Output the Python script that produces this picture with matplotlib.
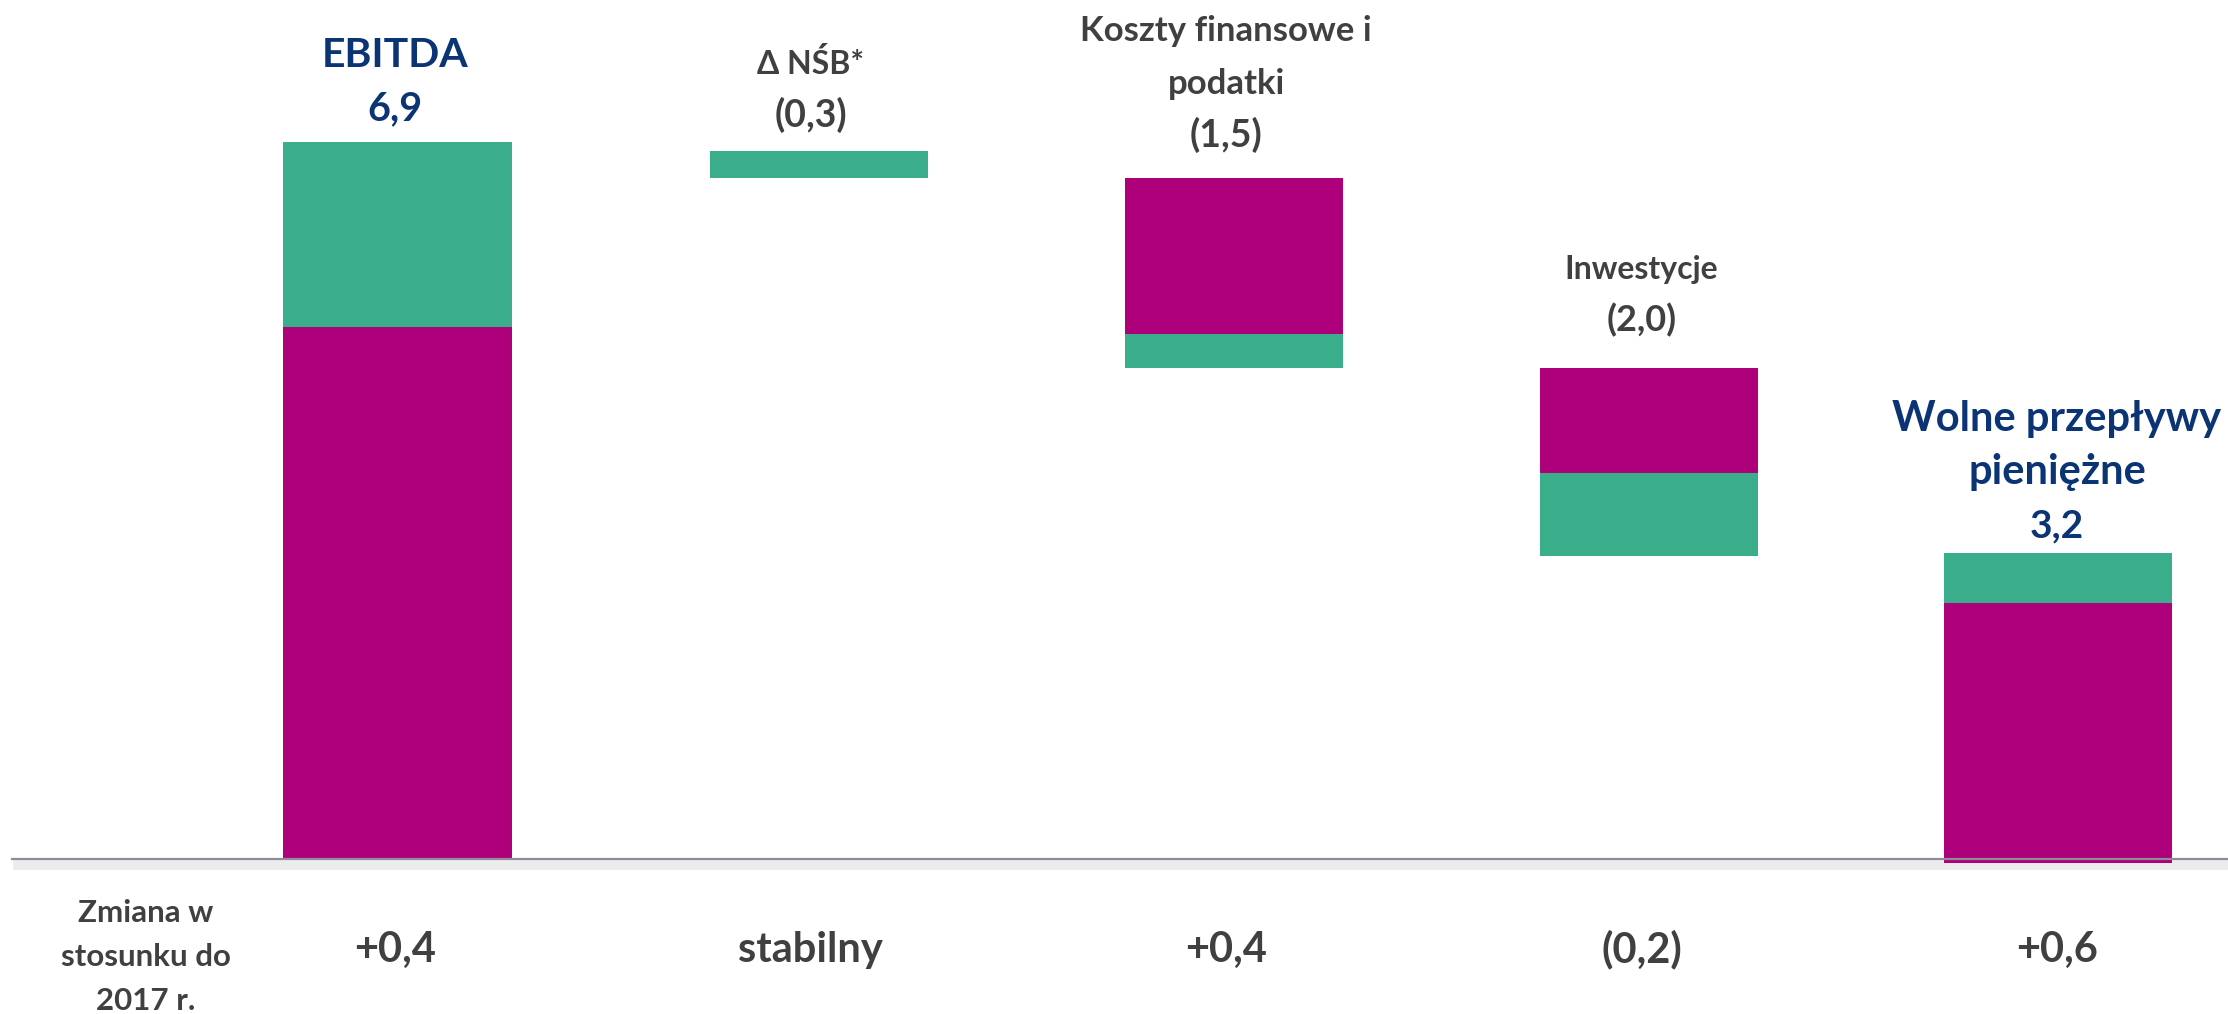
import numpy as np
import matplotlib
matplotlib.use('Agg')
import matplotlib.pyplot as plt

# waterfall steps, bln PLN
categories = ['EBITDA', 'Δ NŚB*', 'Koszty finansowe i\npodatki', 'Inwestycje', 'Wolne przepływy\npieniężne']
value_labels = ['6,9', '(0,3)', '(1,5)', '(2,0)', '3,2']
change_title = 'Zmiana w\nstosunku do\n2017 r.'
change_labels = ['+0,4', 'stabilny', '+0,4', '(0,2)', '+0,6']
is_total = [True, False, False, False, True]

# segment bounds
magenta_low = [0.0, np.nan, 5.05, 3.71, -0.04]
magenta_high = [5.12, np.nan, 6.55, 4.73, 2.46]
green_low = [5.12, 6.55, 4.73, 2.92, 2.46]
green_high = [6.90, 6.81, 5.05, 3.71, 2.94]

GREEN = '#3aad8a'
MAGENTA = '#ae007a'
BLUE = '#0b3474'
GREY = '#404040'

plt.rcParams['font.family'] = ['Lato', 'DejaVu Sans']
plt.rcParams['font.weight'] = 'bold'

fig = plt.figure(figsize=(22.28, 10.14), dpi=100)
ax = fig.add_axes([0, 0, 1, 1])
ax.set_xlim(-0.9507, 4.4115)
ax.set_ylim(-1.4917, 8.2667)
ax.axis('off')

x = np.arange(len(categories))
bar_x = x + np.array([0.006, 0.02, 0.02, 0.018, 0.002])
widths = np.array([0.551, 0.525, 0.525, 0.525, 0.549])

m_low, m_high = np.array(magenta_low), np.array(magenta_high)
g_low, g_high = np.array(green_low), np.array(green_high)
ok = ~np.isnan(m_low)
ax.bar(bar_x[ok], (m_high - m_low)[ok], bottom=m_low[ok], width=widths[ok],
       color=MAGENTA, linewidth=0, zorder=2)
ax.bar(bar_x, g_high - g_low, bottom=g_low, width=widths,
       color=GREEN, linewidth=0, zorder=2)

# baseline with a soft shadow under it
ax.axhline(-0.055, xmin=0.008, color='#ececee', lw=7, zorder=1)
ax.axhline(0, xmin=12 / 2228, color='#8e8c98', lw=1.6, zorder=3)

# labels above bars, offsets in pixels from the bar top
gaps = [22, 24, 31, 36, 16]
line_step = 53
name_sizes = [29.5, 23, 25, 23, 30]
val_sizes = [28.5, 27, 27, 26, 28]
tops = np.nanmax(np.vstack([m_high, g_high]), axis=0)
for i, (name, val) in enumerate(zip(categories, value_labels)):
    col = BLUE if is_total[i] else GREY
    ax.annotate(val, xy=(x[i], tops[i]), xytext=(0, gaps[i]), textcoords='offset pixels',
                ha='center', va='baseline', fontsize=val_sizes[i], color=col)
    lines = name.split('\n')
    for k, line in enumerate(reversed(lines)):
        ax.annotate(line, xy=(x[i], tops[i]), xytext=(0, gaps[i] + line_step * (k + 1)),
                    textcoords='offset pixels', ha='center', va='baseline',
                    fontsize=name_sizes[i], color=col)

# bottom row: change vs 2017
for i, lab in enumerate(change_labels):
    ax.annotate(lab, xy=(x[i], 0), xytext=(0, -103), textcoords='offset pixels',
                ha='center', va='baseline', fontsize=30, color=GREY)
for k, line in enumerate(change_title.split('\n')):
    ax.annotate(line, xy=(-0.6, 0), xytext=(0, -63 - 44 * k), textcoords='offset pixels',
                ha='center', va='baseline', fontsize=22.5, color=GREY)

fig.savefig('out.png', dpi=100, facecolor='white')
